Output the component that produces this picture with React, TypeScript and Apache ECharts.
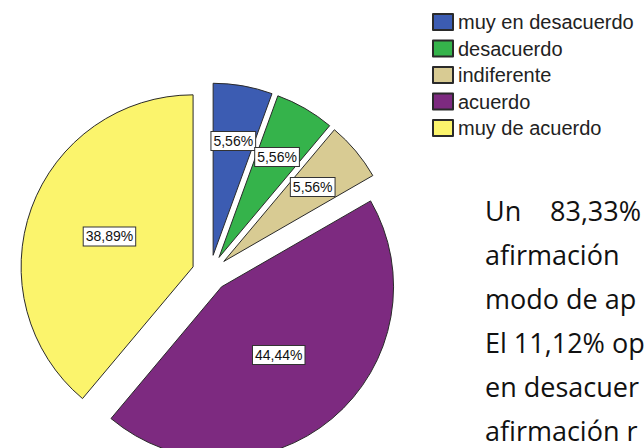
import React, { useEffect, useRef } from "react";
import * as echarts from "echarts";

const categories = ["muy en desacuerdo", "desacuerdo", "indiferente", "acuerdo", "muy de acuerdo"];
const percentages = [5.56, 5.56, 5.56, 44.44, 38.89];
const sliceColors = ["#3c5cb2", "#35b34b", "#d8cb93", "#7d2a80", "#fbf46c"];
const paragraphWords = [
  ["Un", "83,33%"],
  ["afirmación"],
  ["modo de ap"],
  ["El 11,12% op"],
  ["en desacuer"],
  ["afirmación r"],
];

const fmt = (v: number) => v.toFixed(2).replace(".", ",") + "%";

export default function App() {
  const ref = useRef<HTMLDivElement>(null);
  useEffect(() => {
    if (!ref.current) return;
    const chart = echarts.init(ref.current, null, { renderer: "svg" });

    const labelBox = {
      backgroundColor: "#ffffff",
      borderColor: "#333333",
      borderWidth: 1,
      padding: [3, 2, 1, 2],
      color: "#111111",
      fontFamily: "Liberation Sans, Arial, sans-serif",
      fontSize: 14,
      formatter: (p: any) => fmt(p.value),
    };

    const mainData = categories.map((name, i) => ({
      name,
      value: percentages[i],
      selected: true,
      itemStyle: { color: sliceColors[i] },
      label: { show: percentages[i] >= 10 },
    }));
    const smallLabelData = categories.map((name, i) => ({
      name,
      value: percentages[i],
      selected: true,
      label: { show: percentages[i] < 10 },
    }));

    const graphics: any[] = [];
    const lineStart = 210;
    const lineStep = 44;
    const font = '27px "Open Sans"';
    paragraphWords.forEach((words, li) => {
      const y = lineStart + li * lineStep;
      graphics.push({ type: "text", x: 485, y, style: { text: words[0], font, fill: "#111", verticalAlign: "middle" } });
      if (words.length === 2) {
        graphics.push({ type: "text", x: 550, y, style: { text: words[1], font, fill: "#111", verticalAlign: "middle" } });
      }
    });

    const center = [210, 273];
    const R = 172;

    chart.setOption({
      animation: false,
      legend: {
        orient: "vertical",
        left: 432,
        top: 12,
        padding: 0,
        itemWidth: 20,
        itemHeight: 16,
        itemGap: 6.5,
        icon: "rect",
        selectedMode: false,
        data: categories,
        textStyle: {
          fontFamily: "Liberation Sans, Arial, sans-serif",
          fontSize: 20,
          lineHeight: 19,
          color: "#222",
        },
      },
      graphic: graphics,
      series: [
        {
          type: "pie",
          center,
          radius: [0, R],
          startAngle: 90,
          clockwise: true,
          selectedMode: "multiple",
          selectedOffset: 18,
          avoidLabelOverlap: false,
          minShowLabelAngle: 0,
          itemStyle: { borderColor: "#2a2a2a", borderWidth: 1 },
          label: { position: "inside", ...labelBox },
          labelLine: { show: false },
          labelLayout: { hideOverlap: false },
          emphasis: { disabled: true },
          data: mainData,
        },
        {
          type: "pie",
          center,
          radius: [54, R],
          startAngle: 90,
          clockwise: true,
          selectedMode: "multiple",
          selectedOffset: 18,
          silent: true,
          z: 3,
          avoidLabelOverlap: false,
          minShowLabelAngle: 0,
          itemStyle: { color: "rgba(0,0,0,0)", borderWidth: 0 },
          label: { position: "inside", ...labelBox },
          labelLine: { show: false },
          labelLayout: { hideOverlap: false },
          emphasis: { disabled: true },
          data: smallLabelData,
        },
      ],
    });
    return () => chart.dispose();
  }, []);
  return <div ref={ref} style={{ position: "absolute", left: 0, top: 0, width: 644, height: 448, background: "#fff" }} />;
}
